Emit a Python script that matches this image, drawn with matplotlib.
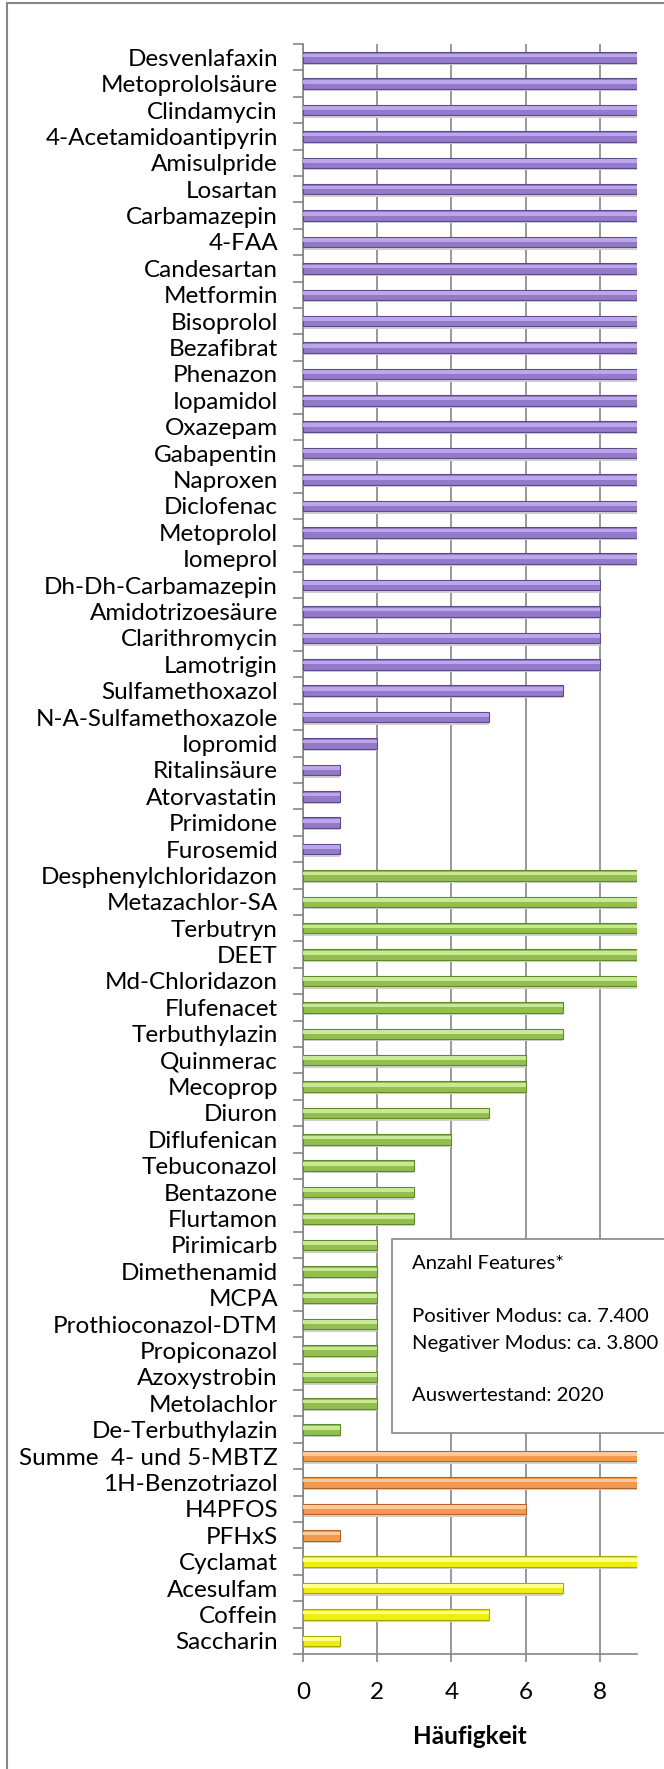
import matplotlib
matplotlib.use("Agg")
import matplotlib.pyplot as plt
from matplotlib.patches import Rectangle

plt.rcParams['font.family'] = ['Lato', 'DejaVu Sans']

# Data (top to bottom)
pharma = ["Desvenlafaxin", "Metoprololsäure", "Clindamycin", "4-Acetamidoantipyrin",
          "Amisulpride", "Losartan", "Carbamazepin", "4-FAA", "Candesartan", "Metformin",
          "Bisoprolol", "Bezafibrat", "Phenazon", "Iopamidol", "Oxazepam", "Gabapentin",
          "Naproxen", "Diclofenac", "Metoprolol", "Iomeprol", "Dh-Dh-Carbamazepin",
          "Amidotrizoesäure", "Clarithromycin", "Lamotrigin", "Sulfamethoxazol",
          "N-A-Sulfamethoxazole", "Iopromid", "Ritalinsäure", "Atorvastatin", "Primidone",
          "Furosemid"]
pharma_vals = [9] * 20 + [8, 8, 8, 8, 7, 5, 2, 1, 1, 1, 1]

pest = ["Desphenylchloridazon", "Metazachlor-SA", "Terbutryn", "DEET", "Md-Chloridazon",
        "Flufenacet", "Terbuthylazin", "Quinmerac", "Mecoprop", "Diuron", "Diflufenican",
        "Tebuconazol", "Bentazone", "Flurtamon", "Pirimicarb", "Dimethenamid", "MCPA",
        "Prothioconazol-DTM", "Propiconazol", "Azoxystrobin", "Metolachlor", "De-Terbuthylazin"]
pest_vals = [9, 9, 9, 9, 9, 7, 7, 6, 6, 5, 4, 3, 3, 3, 2, 2, 2, 2, 2, 2, 2, 1]

indus = ["Summe  4- und 5-MBTZ", "1H-Benzotriazol", "H4PFOS", "PFHxS"]
indus_vals = [9, 9, 6, 1]

sweet = ["Cyclamat", "Acesulfam", "Coffein", "Saccharin"]
sweet_vals = [9, 7, 5, 1]

groups = [
    (pharma, pharma_vals, "#9379c9", "#bba6ea", "#5e4a8a"),
    (pest, pest_vals, "#93bf4f", "#c8e895", "#5f8a2c"),
    (indus, indus_vals, "#f39a4e", "#fcc99c", "#b4642a"),
    (sweet, sweet_vals, "#eeee10", "#ffff90", "#a9a900"),
]

fig = plt.figure(figsize=(6.64, 17.69), dpi=100)
ax = fig.add_axes([0.4563, 0.0650, 0.5030, 0.9101])

labels = []
pos = 0
for names, vals, face, light, edge in groups:
    y = list(range(pos, pos + len(names)))
    ax.barh([v + 0.10 for v in y], vals, height=0.38, color="#d0d0d0", zorder=2)
    ax.barh(y, vals, height=0.40, color=face, edgecolor=edge, linewidth=0.8, zorder=3)
    ax.barh([v - 0.07 for v in y], vals, height=0.14, color=light, linewidth=0, zorder=4)
    labels += names
    pos += len(names)

n = len(labels)
ax.set_ylim(n - 0.5, -0.5)
ax.set_xlim(0, 9)
ax.set_yticks(range(n))
ax.set_yticklabels(labels, fontsize=17.5)
ax.set_yticks([i - 0.5 for i in range(n + 1)], minor=True)
ax.tick_params(axis='y', which='major', length=0, pad=18)
ax.tick_params(axis='y', which='minor', length=7, color="#868686", width=1.2)
ax.set_xticks([0, 2, 4, 6, 8])
ax.tick_params(axis='x', length=6, color="#868686", width=1.2, labelsize=17.5, pad=14)
ax.xaxis.grid(True, color="#868686", linewidth=1.2, zorder=0)
ax.set_axisbelow(True)
for s in ["top", "right"]:
    ax.spines[s].set_visible(False)
for s in ["left", "bottom"]:
    ax.spines[s].set_color("#868686")
    ax.spines[s].set_linewidth(1.2)
ax.set_xlabel("Häufigkeit", fontsize=17.5, fontweight="bold", labelpad=16)

# Info box (extends past the right edge)
W, H = 664, 1769
box = Rectangle((392 / W, 1 - 1433 / H), 0.6, (1433 - 1239) / H, transform=fig.transFigure,
                facecolor="white", edgecolor="#868686", linewidth=1.2, zorder=10)
fig.patches.append(box)
bx = 412 / W
fs = 14.6
fig.text(bx, 1 - 1263 / H, "Anzahl Features*", fontsize=fs, va="center", zorder=11)
fig.text(bx, 1 - 1317 / H, "Positiver Modus: ca. 7.400", fontsize=fs, va="center", zorder=11)
fig.text(bx, 1 - 1343 / H, "Negativer Modus: ca. 3.800", fontsize=fs, va="center", zorder=11)
fig.text(bx, 1 - 1395 / H, "Auswertestand: 2020", fontsize=fs, va="center", zorder=11)

# Outer chart frame
frame = Rectangle((7 / W, -0.1), 1.2, 1.1 - 3 / H, transform=fig.transFigure,
                  facecolor="none", edgecolor="#868686", linewidth=1.5, zorder=12)
fig.patches.append(frame)

fig.savefig("out.png", dpi=100)
